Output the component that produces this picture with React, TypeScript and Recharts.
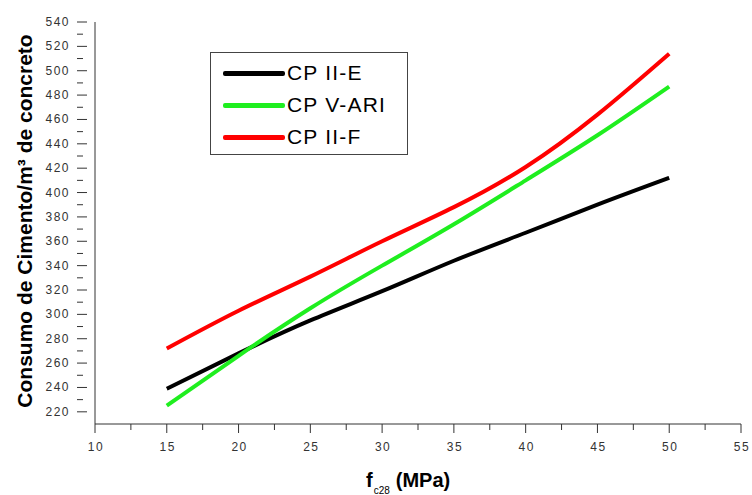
import { Line, LineChart, XAxis, YAxis } from "recharts";

const strength = [15, 20, 25, 30, 35, 40, 45, 50];
const cpIIE = [239, 268, 295, 319, 344, 367, 390, 412];
const cpVARI = [225, 266, 305, 340, 374, 410, 447, 487];
const cpIIF = [272, 303, 331, 360, 388, 421, 464, 514];

const xTicks = [10, 12.5, 15, 17.5, 20, 22.5, 25, 27.5, 30, 32.5, 35, 37.5, 40, 42.5, 45, 47.5, 50, 52.5, 55];
const yTicks = [220, 230, 240, 250, 260, 270, 280, 290, 300, 310, 320, 330, 340, 350, 360, 370, 380, 390, 400, 410, 420, 430, 440, 450, 460, 470, 480, 490, 500, 510, 520, 530, 540];

const series = [
  { key: "iie", name: "CP II-E", color: "#000000" },
  { key: "vari", name: "CP V-ARI", color: "#1fee1f" },
  { key: "iif", name: "CP II-F", color: "#ff0000" },
];

const data = strength.map((x, i) => ({
  x,
  iie: cpIIE[i],
  vari: cpVARI[i],
  iif: cpIIF[i],
}));

const tickFont = "'Liberation Sans', Arial, sans-serif";

function YTick(props: any) {
  const { x, y, payload } = props;
  const major = payload.value % 20 === 0;
  return (
    <g>
      <line x1={x - 10} x2={x - 10 + (major ? 10 : 6)} y1={y} y2={y} stroke="#333" strokeWidth={1} />
      {major && (
        <text x={x - 17} y={y + 4} textAnchor="end" fontSize={12} letterSpacing={1.5} fill="#333" fontFamily={tickFont}>
          {payload.value}
        </text>
      )}
    </g>
  );
}

function XTick(props: any) {
  const { x, y, payload } = props;
  const major = payload.value % 5 === 0;
  return (
    <g>
      <line x1={x} x2={x} y1={y - 8} y2={y - 8 + (major ? 9 : 6)} stroke="#333" strokeWidth={1} />
      {major && (
        <text x={x + 1} y={y + 19} textAnchor="middle" fontSize={12} letterSpacing={1.5} fill="#333" fontFamily={tickFont}>
          {payload.value}
        </text>
      )}
    </g>
  );
}

function LegendBox() {
  return (
    <div
      style={{
        position: "absolute",
        left: 210,
        top: 52,
        border: "1px solid #444",
        width: 198,
        height: 103,
        boxSizing: "border-box",
        background: "#fff",
        padding: "4px 0 0 12px",
        fontFamily: tickFont,
      }}
    >
      {series.map((s) => (
        <div key={s.key} style={{ display: "flex", alignItems: "center", height: 32 }}>
          <div style={{ width: 62, height: 5, background: s.color, borderRadius: 2 }} />
          <span style={{ fontSize: 21, letterSpacing: 1.2, marginLeft: 2, color: "#000" }}>{s.name}</span>
        </div>
      ))}
    </div>
  );
}

export default function App() {
  return (
    <div style={{ position: "absolute", left: 0, top: 0, width: 752, height: 495, background: "#fff" }}>
      <LineChart width={752} height={495} data={data} margin={{ top: 22, right: 11, bottom: 31, left: 0 }}>
        <XAxis
          dataKey="x"
          type="number"
          domain={[10, 55]}
          ticks={xTicks}
          interval={0}
          height={40}
          stroke="#333"
          tickLine={false}
          tick={<XTick />}
          label={{
            content: () => (
              <text x={366} y={487} fontFamily={tickFont} fontWeight="bold" fill="#000">
                <tspan fontSize={20}>f</tspan>
                <tspan fontSize={10} fontWeight="normal" dy={7} dx={1}>c28</tspan>
                <tspan fontSize={20} dy={-7} dx={6}>(MPa)</tspan>
              </text>
            ),
          }}
        />
        <YAxis
          type="number"
          domain={[210, 540]}
          ticks={yTicks}
          interval={0}
          width={95}
          stroke="#333"
          tickLine={false}
          tick={<YTick />}
          label={{
            content: () => (
              <text
                x={0}
                y={0}
                transform="translate(32,221) rotate(-90)"
                textAnchor="middle"
                fontFamily={tickFont}
                fontWeight="bold"
                fontSize={21}
                fill="#000"
              >
                Consumo de Cimento/m³ de concreto
              </text>
            ),
          }}
        />
        {series.map((s) => (
          <Line
            key={s.key}
            type="natural"
            dataKey={s.key}
            name={s.name}
            stroke={s.color}
            strokeWidth={4}
            dot={false}
            isAnimationActive={false}
          />
        ))}
      </LineChart>
      <LegendBox />
    </div>
  );
}
